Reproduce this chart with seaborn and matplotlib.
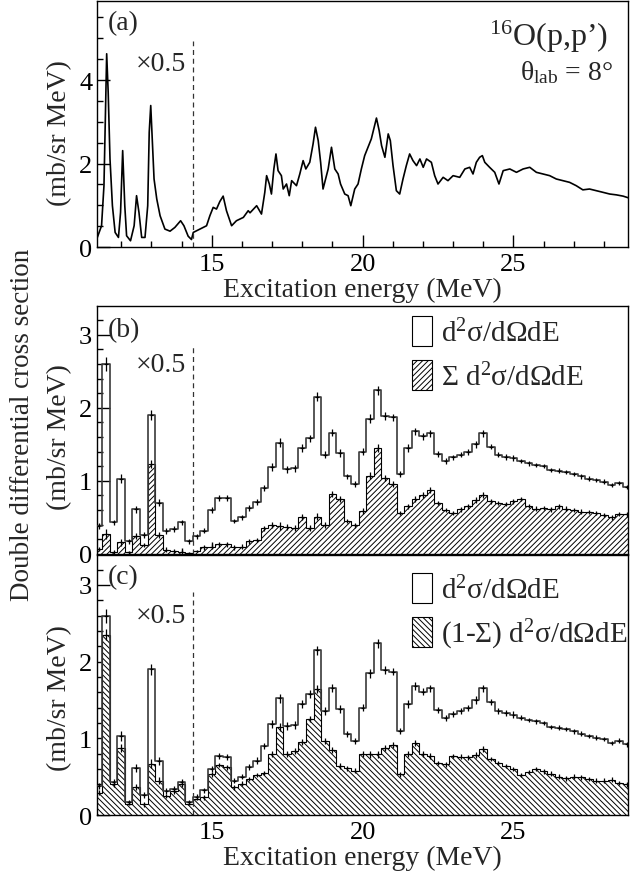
import numpy as np
import pandas as pd
import matplotlib
matplotlib.use("Agg")
import matplotlib.pyplot as plt
import seaborn as sns
from matplotlib.patches import Patch
from matplotlib.ticker import MultipleLocator

sns.set_theme(style="ticks")
plt.rcParams.update({
    'font.family': ['Liberation Serif', 'DejaVu Serif'],
    'mathtext.fontset': 'custom',
    'mathtext.rm': 'Liberation Serif',
    'mathtext.it': 'Liberation Serif:italic',
    'font.size': 19,
    'axes.edgecolor': 'black',
    'axes.linewidth': 1.0,
    'xtick.color': 'black',
    'ytick.color': 'black',
    'hatch.linewidth': 0.7,
})

# --- panel (a): fine-binned spectrum ---
energy_a = [11.21, 11.35, 11.43, 11.49, 11.52, 11.57, 11.63, 11.71, 11.80, 11.91,
            11.98, 12.05, 12.12, 12.18, 12.31, 12.43, 12.51, 12.59, 12.68, 12.79,
            12.88, 12.93, 12.98, 13.02, 13.09, 13.18, 13.29, 13.45, 13.62, 13.78,
            13.97, 14.08, 14.22, 14.33, 14.39, 14.61, 14.83, 14.94, 15.05, 15.16,
            15.27, 15.38, 15.49, 15.66, 15.82, 16.05, 16.21, 16.27, 16.49, 16.65,
            16.76, 16.82, 16.91, 16.98, 17.06, 17.13, 17.20, 17.31, 17.37, 17.48,
            17.57, 17.65, 17.81, 17.92, 18.03, 18.12, 18.25, 18.36, 18.44, 18.53,
            18.61, 18.69, 18.86, 18.97, 19.08, 19.19, 19.27, 19.41, 19.52, 19.61,
            19.74, 19.85, 19.96, 20.07, 20.18, 20.29, 20.37, 20.46, 20.55, 20.63,
            20.74, 20.85, 20.92, 21.01, 21.12, 21.23, 21.34, 21.45, 21.56, 21.67,
            21.79, 21.90, 22.01, 22.12, 22.28, 22.39, 22.50, 22.67, 22.83, 23.00,
            23.22, 23.39, 23.55, 23.66, 23.77, 23.88, 23.97, 24.05, 24.21, 24.38,
            24.52, 24.66, 24.88, 25.10, 25.32, 25.54, 25.76, 25.98, 26.20, 26.42,
            26.64, 26.86, 27.08, 27.30, 27.52, 27.75, 27.97, 28.19, 28.41, 28.63,
            28.85]
xsec_a = [0.23, 0.51, 1.47, 3.55, 4.63, 3.71, 2.11, 0.99, 0.35, 0.23,
          0.83, 2.31, 0.99, 0.27, 0.15, 0.51, 1.23, 0.83, 0.23, 0.23,
          0.99, 2.75, 3.39, 2.75, 1.63, 1.15, 0.75, 0.43, 0.38, 0.47,
          0.63, 0.51, 0.26, 0.18, 0.35, 0.43, 0.51, 0.75, 0.95, 0.91,
          1.09, 1.22, 0.87, 0.51, 0.63, 0.71, 0.87, 0.82, 0.99, 0.79,
          1.31, 1.71, 1.51, 1.27, 1.87, 2.23, 1.83, 1.71, 1.39, 1.51,
          1.23, 1.59, 1.47, 1.75, 2.07, 1.87, 2.03, 2.47, 2.87, 2.55,
          2.03, 1.39, 1.87, 2.39, 1.87, 1.75, 1.51, 1.27, 1.23, 0.99,
          1.39, 1.51, 1.87, 2.19, 2.39, 2.59, 2.83, 3.09, 2.79, 2.43,
          2.15, 2.71, 2.55, 1.95, 1.35, 1.27, 1.63, 1.95, 2.23, 2.07,
          1.95, 2.11, 1.91, 2.11, 2.03, 1.71, 1.51, 1.67, 1.59, 1.71,
          1.67, 1.87, 1.91, 1.75, 2.03, 2.15, 2.19, 2.03, 1.91, 1.79,
          1.51, 1.83, 1.87, 1.79, 1.87, 1.91, 1.79, 1.75, 1.71, 1.63,
          1.59, 1.55, 1.47, 1.37, 1.39, 1.35, 1.31, 1.27, 1.25, 1.22,
          1.17]

# --- panels (b),(c): 0.25 MeV bins starting at 11.125 MeV ---
first_edge = 11.125
bin_width = 0.25
total = [0.38, 2.60, 0.43, 1.03, 0.17, 0.61, 0.26, 1.90, 0.70, 0.31,
         0.34, 0.43, 0.17, 0.24, 0.32, 0.60, 0.77, 0.76, 0.45, 0.50,
         0.63, 0.71, 0.90, 1.19, 1.52, 1.16, 1.17, 1.45, 1.58, 2.15,
         1.36, 1.66, 1.38, 1.06, 0.96, 1.40, 1.85, 2.24, 1.89, 1.87,
         1.09, 1.45, 1.68, 1.61, 1.65, 1.37, 1.27, 1.32, 1.36, 1.40,
         1.50, 1.65, 1.47, 1.36, 1.33, 1.31, 1.27, 1.24, 1.22, 1.20,
         1.15, 1.14, 1.12, 1.09, 1.06, 1.03, 1.01, 0.99, 0.94, 0.97,
         0.92]
sigma_part = [0.07, 0.27, 0.03, 0.16, 0.02, 0.24, 0.12, 1.23, 0.26, 0.06,
              0.04, 0.03, 0.01, 0.04, 0.09, 0.10, 0.13, 0.13, 0.09, 0.10,
              0.17, 0.19, 0.35, 0.40, 0.38, 0.37, 0.36, 0.51, 0.35, 0.51,
              0.40, 0.82, 0.75, 0.45, 0.39, 0.59, 1.07, 1.45, 1.04, 0.96,
              0.56, 0.65, 0.75, 0.81, 0.87, 0.70, 0.60, 0.56, 0.61, 0.65,
              0.74, 0.81, 0.72, 0.70, 0.68, 0.72, 0.75, 0.66, 0.62, 0.63,
              0.61, 0.65, 0.62, 0.60, 0.58, 0.57, 0.56, 0.53, 0.50, 0.55,
              0.54]
rest_part = [0.29, 2.35, 0.40, 0.87, 0.15, 0.37, 0.14, 0.67, 0.45, 0.25,
             0.31, 0.40, 0.15, 0.21, 0.23, 0.53, 0.65, 0.62, 0.36, 0.41,
             0.47, 0.52, 0.55, 0.79, 1.15, 0.79, 0.84, 0.95, 1.25, 1.64,
             0.97, 0.85, 0.64, 0.61, 0.58, 0.80, 0.79, 0.79, 0.87, 0.91,
             0.53, 0.80, 0.94, 0.79, 0.77, 0.68, 0.66, 0.77, 0.76, 0.75,
             0.78, 0.86, 0.73, 0.68, 0.64, 0.60, 0.52, 0.56, 0.60, 0.57,
             0.54, 0.50, 0.48, 0.50, 0.49, 0.47, 0.45, 0.45, 0.46, 0.42,
             0.40]
err_total = [0.04, 0.09, 0.04, 0.06, 0.03, 0.05, 0.04, 0.07, 0.05, 0.04,
             0.04, 0.04, 0.03, 0.03, 0.03, 0.04, 0.04, 0.04, 0.03, 0.03,
             0.04, 0.04, 0.04, 0.05, 0.06, 0.05, 0.05, 0.05, 0.05, 0.06,
             0.05, 0.05, 0.05, 0.04, 0.04, 0.05, 0.06, 0.06, 0.05, 0.05,
             0.04, 0.05, 0.05, 0.05, 0.05, 0.04, 0.04, 0.04, 0.04, 0.04,
             0.05, 0.05, 0.04, 0.04, 0.04, 0.04, 0.03, 0.03, 0.03, 0.03,
             0.03, 0.03, 0.03, 0.03, 0.03, 0.03, 0.03, 0.03, 0.03, 0.03,
             0.03]
err_part = [0.03, 0.07, 0.03, 0.05, 0.02, 0.04, 0.03, 0.06, 0.04, 0.03,
            0.03, 0.03, 0.02, 0.02, 0.03, 0.03, 0.03, 0.03, 0.03, 0.03,
            0.03, 0.03, 0.03, 0.04, 0.05, 0.04, 0.04, 0.04, 0.04, 0.05,
            0.04, 0.04, 0.04, 0.03, 0.03, 0.04, 0.05, 0.05, 0.04, 0.04,
            0.03, 0.04, 0.04, 0.04, 0.04, 0.03, 0.03, 0.03, 0.03, 0.03,
            0.04, 0.04, 0.03, 0.03, 0.03, 0.03, 0.03, 0.03, 0.03, 0.03,
            0.03, 0.03, 0.03, 0.03, 0.03, 0.03, 0.03, 0.03, 0.03, 0.03,
            0.03]

edges = first_edge + bin_width * np.arange(len(total) + 1)
centers = 0.5 * (edges[:-1] + edges[1:])
hist_df = pd.DataFrame({'E': centers, 'total': total})

XLIM = (11.2, 28.8)
SCALE_CUT = 14.37   # left of this the spectrum is scaled by 0.5
label_total = r'd$^{2}$σ/dΩdE'
FS = 20

fig = plt.figure(figsize=(6.3, 8.78), dpi=100)
ax_a = fig.add_axes([0.154, 0.7175, 0.843, 0.2805])
ax_b = fig.add_axes([0.154, 0.368, 0.843, 0.282])
ax_c = fig.add_axes([0.154, 0.0706, 0.843, 0.2961])


def style_axis(ax, ymax, ymajor, yminor, ylab_y):
    ax.set_xlim(*XLIM)
    ax.set_ylim(0, ymax)
    ax.xaxis.set_major_locator(MultipleLocator(5))
    ax.xaxis.set_minor_locator(MultipleLocator(1))
    ax.yaxis.set_major_locator(MultipleLocator(ymajor))
    ax.yaxis.set_minor_locator(MultipleLocator(yminor))
    ax.tick_params(which='both', direction='in', top=False, right=False,
                   width=1.0, labelsize=19)
    ax.tick_params(axis='x', which='both', pad=4.5)
    ax.tick_params(axis='y', which='both', pad=3.5)
    ax.tick_params(which='major', length=9)
    ax.tick_params(which='minor', length=4.5)
    ax.set_ylabel('(mb/sr MeV)', fontsize=FS)
    ax.yaxis.set_label_coords(-0.047, ylab_y)
    for s in ax.spines.values():
        s.set_linewidth(1.0)
        s.set_color('black')


# (a)
sns.lineplot(x=energy_a, y=xsec_a, ax=ax_a, color='black', lw=1.2,
             sort=False, estimator=None)
ax_a.plot([SCALE_CUT, SCALE_CUT], [0, 4.94], ls=(0, (4, 3)), color='#333333', lw=0.9)
style_axis(ax_a, 5.9, 2, 0.5, 0.467)
ax_a.set_xlabel('Excitation energy (MeV)', fontsize=FS, labelpad=1)
ax_a.text(11.57, 5.37, '(a)', fontsize=FS, va='center', ha='left')
ax_a.text(12.48, 4.39, '×0.5', fontsize=FS, va='center', ha='left')
ax_a.text(28.15, 5.05, r'$^{16}$O(p,p’)', fontsize=23, va='center', ha='right')
ax_a.text(28.3, 4.2, r'θ$_{\mathrm{lab}}$ = 8°', fontsize=20, va='center', ha='right')


def draw_hist(ax, part, hatch, legend_label, lab_y, leg_y):
    ax.stairs(part, edges, fill=True, facecolor='white', edgecolor='black',
              hatch=hatch, lw=0.8, zorder=2)
    sns.histplot(data=hist_df, x='E', weights='total', bins=edges.tolist(),
                 element='step', fill=False, color='#3a3a3a', lw=1.2, ax=ax,
                 zorder=3)
    ax.errorbar(centers, total, yerr=err_total, xerr=0.06, fmt='none',
                ecolor='black', elinewidth=0.9, zorder=4)
    ax.errorbar(centers, part, yerr=err_part, xerr=0.06, fmt='none',
                ecolor='black', elinewidth=0.9, zorder=4)
    style_axis(ax, 3.39, 1, 0.2, lab_y)
    handles = [Patch(facecolor='white', edgecolor='black', lw=0.8),
               Patch(facecolor='white', edgecolor='black', hatch=hatch, lw=0.8)]
    ax.legend(handles, [label_total, legend_label], loc='upper left',
              bbox_to_anchor=(0.593, leg_y), frameon=False, handlelength=0.69,
              handleheight=1.2, handletextpad=0.3, labelspacing=0.45,
              fontsize=21, borderaxespad=0.0, borderpad=0.0)


# (b)
draw_hist(ax_b, sigma_part, '//////', r'Σ d$^{2}$σ/dΩdE', 0.476, 0.96)
ax_b.plot([SCALE_CUT, SCALE_CUT], [0, 2.83], ls=(0, (4, 3)), color='#333333', lw=0.9)
ax_b.set_xlabel('')
ax_b.tick_params(axis='x', labelbottom=False)
ax_b.text(11.55, 3.07, '(b)', fontsize=FS, va='center', ha='left')
ax_b.text(12.48, 2.59, '×0.5', fontsize=FS, va='center', ha='left')

# (c)
draw_hist(ax_c, rest_part, '\\\\\\\\\\\\', r'(1-Σ) d$^{2}$σ/dΩdE', 0.454, 0.93)
ax_c.plot([SCALE_CUT, SCALE_CUT], [0, 2.91], ls=(0, (4, 3)), color='#333333', lw=0.9)
ax_c.set_xlabel('Excitation energy (MeV)', fontsize=FS, labelpad=1)
ax_c.text(11.55, 3.11, '(c)', fontsize=FS, va='center', ha='left')
ax_c.text(12.48, 2.60, '×0.5', fontsize=FS, va='center', ha='left')

fig.text(0.035, 0.516, 'Double differential cross section', rotation=90,
         va='center', ha='center', fontsize=19.5)

fig.savefig('out.png', dpi=100)
